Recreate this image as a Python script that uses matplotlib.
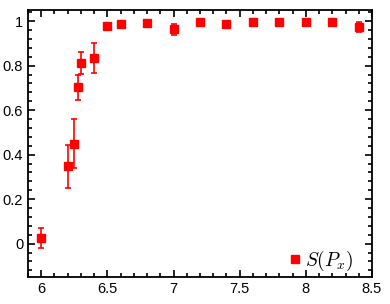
import numpy as np
import matplotlib
matplotlib.use('Agg')
from matplotlib import pyplot as plt
from matplotlib.ticker import MultipleLocator
from matplotlib.lines import Line2D

# data
beta = [6.0, 6.2, 6.25, 6.28, 6.3, 6.4, 6.5, 6.6, 6.8, 7.0, 7.2, 7.4, 7.6, 7.8, 8.0, 8.2, 8.4]
s_px = [0.024, 0.347, 0.448, 0.703, 0.813, 0.833, 0.979, 0.987, 0.993, 0.963,
        0.994, 0.988, 0.997, 0.997, 0.998, 0.997, 0.973]
s_err = [0.045, 0.097, 0.11, 0.057, 0.05, 0.068, 0.006, 0.006, 0.006, 0.025,
         0.005, 0.005, 0.004, 0.004, 0.004, 0.004, 0.023]

plt.rcParams['font.family'] = ['Liberation Sans', 'DejaVu Sans']
plt.rcParams['mathtext.fontset'] = 'cm'

fig = plt.figure(figsize=(3.9, 3.04), dpi=100)
ax = fig.add_axes([28/390, 1 - 277/304, (372 - 28)/390, (277 - 10)/304])

ax.errorbar(beta, s_px, yerr=s_err, fmt='s', color='#ff0000', ms=5.5,
            mec='#ff0000', ecolor='#ff0000', elinewidth=1.2, capsize=2.5,
            capthick=1.2)

ax.set_xlim(5.9, 8.5)
ax.set_ylim(-0.15, 1.05)
ax.xaxis.set_major_locator(MultipleLocator(0.5))
ax.xaxis.set_minor_locator(MultipleLocator(0.1))
ax.yaxis.set_major_locator(MultipleLocator(0.2))
ax.yaxis.set_minor_locator(MultipleLocator(0.04))
ax.xaxis.set_major_formatter(plt.FuncFormatter(lambda v, p: ('%g' % v)))
ax.yaxis.set_major_formatter(plt.FuncFormatter(lambda v, p: ('%g' % round(v, 2))))
ax.tick_params(which='both', direction='in', top=True, right=True, labelsize=10.5, width=1.2)
ax.tick_params(which='major', length=5)
ax.tick_params(which='minor', length=3)
for sp in ax.spines.values():
    sp.set_linewidth(1.3)

handle = Line2D([], [], ls='none', marker='s', color='#ff0000', ms=5.5)
leg = ax.legend([handle], [r'$S(P_x)$'], loc='lower right', frameon=False,
                handlelength=0.8, handletextpad=0.1, fontsize=14,
                borderaxespad=0.0, bbox_to_anchor=(0.968, -0.015))

fig.savefig('out.png', dpi=100)
